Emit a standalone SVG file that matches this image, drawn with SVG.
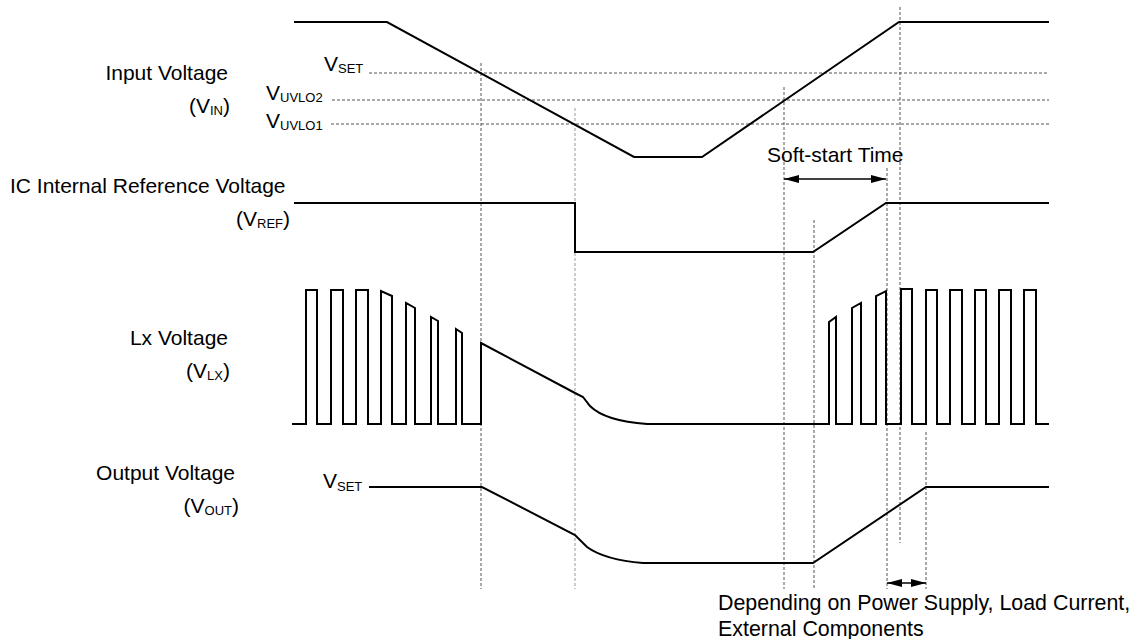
<svg xmlns="http://www.w3.org/2000/svg" width="1137" height="639" viewBox="0 0 1137 639">
<style>
text{font-family:"Liberation Sans",Arial,sans-serif;font-size:21px;fill:#000}
.sub{font-size:13px}
.note{font-size:21.4px}
.trace{fill:none;stroke:#000;stroke-width:2;stroke-linejoin:miter}
.dash{fill:none;stroke:#555;stroke-width:1;stroke-dasharray:3,2}
.dashl{fill:none;stroke:#999;stroke-width:1;stroke-dasharray:3,2}
.arrow{fill:none;stroke:#000;stroke-width:1.5}
</style>
<defs>
<marker id="ah" markerUnits="userSpaceOnUse" markerWidth="15" markerHeight="8" refX="15" refY="4" orient="auto-start-reverse">
<path d="M0,0 L15,4 L0,8 z" fill="#000"/>
</marker>
</defs>
<rect width="1137" height="639" fill="#fff"/>

<g id="labels">
<text x="228" y="80" text-anchor="end">Input Voltage</text>
<text x="230" y="113" text-anchor="end">(V<tspan class="sub" dy="2">IN</tspan><tspan dy="-2">)</tspan></text>
<text x="10" y="193">IC Internal Reference Voltage</text>
<text x="290" y="226" text-anchor="end">(V<tspan class="sub" dy="2">REF</tspan><tspan dy="-2">)</tspan></text>
<text x="228" y="345" text-anchor="end">Lx Voltage</text>
<text x="230" y="378" text-anchor="end">(V<tspan class="sub" dy="2">LX</tspan><tspan dy="-2">)</tspan></text>
<text x="235" y="480" text-anchor="end">Output Voltage</text>
<text x="239" y="513" text-anchor="end">(V<tspan class="sub" dy="2">OUT</tspan><tspan dy="-2">)</tspan></text>
</g>

<g id="levels">
<text x="324" y="71">V<tspan class="sub" dy="2">SET</tspan></text>
<text x="266" y="100">V<tspan class="sub" dy="2">UVLO2</tspan></text>
<text x="266" y="128">V<tspan class="sub" dy="2">UVLO1</tspan></text>
<text x="323" y="488">V<tspan class="sub" dy="3">SET</tspan></text>
<line class="dash" x1="369" y1="73" x2="1049" y2="73"/>
<line class="dash" x1="332" y1="100" x2="1049" y2="100"/>
<line class="dash" x1="331" y1="124" x2="1049" y2="124"/>
</g>

<g id="markers">
<line class="dash" x1="481" y1="63" x2="481" y2="589"/>
<line class="dashl" x1="575" y1="108" x2="575" y2="589"/>
<line class="dash" x1="784" y1="87" x2="784" y2="589"/>
<line class="dash" x1="814" y1="220" x2="814" y2="589"/>
<line class="dash" x1="887" y1="168" x2="887" y2="589"/>
<line class="dash" x1="900" y1="7" x2="900" y2="543"/>
<line class="dash" x1="926" y1="432" x2="926" y2="589"/>
</g>

<g id="vin">
<path class="trace" d="M294,22 H387 L634,157 H702 L899,22 H1049"/>
</g>

<g id="vref">
<path class="trace" d="M294,203 H575 V252 H813 L886,203 H1049"/>
</g>

<g id="vlx">
<path class="trace" d="M292,424 H306 V290 H317 V424 H331 V290 H343 V424 H356 V290 H368 V424 H381 V291 L392,296 V424 H406 V303 L415,308 V424 H431 V317 L438,321 V424 H456 V329 L462,333 V424 H481 V343 L575,393 L583,397 L590,406 Q605,421 647,424 H829 V322 L836,317 V424 H852 V308 L861,303 V424 H876 V296 L886,291 V424 H901 V289 H912 V424 H926 V290 H937 V424 H950 V290 H962 V424 H975 V290 H986 V424 H999 V290 H1011 V424 H1024 V290 H1036 V424 H1049"/>
</g>

<g id="vout">
<path class="trace" d="M369,487 H482 L575,535 L587,547 Q605,560 643,563 H813 L926,487 H1049"/>
</g>

<g id="connectors">
<line class="arrow" x1="784" y1="179" x2="886" y2="179" marker-start="url(#ah)" marker-end="url(#ah)"/>
<line class="arrow" x1="887" y1="583" x2="926" y2="583" marker-start="url(#ah)" marker-end="url(#ah)"/>
</g>

<g id="annotations">
<text x="767" y="162">Soft-start Time</text>
<text class="note" x="718" y="610">Depending on Power Supply, Load Current,</text>
<text class="note" x="718" y="636">External Components</text>
</g>
</svg>
